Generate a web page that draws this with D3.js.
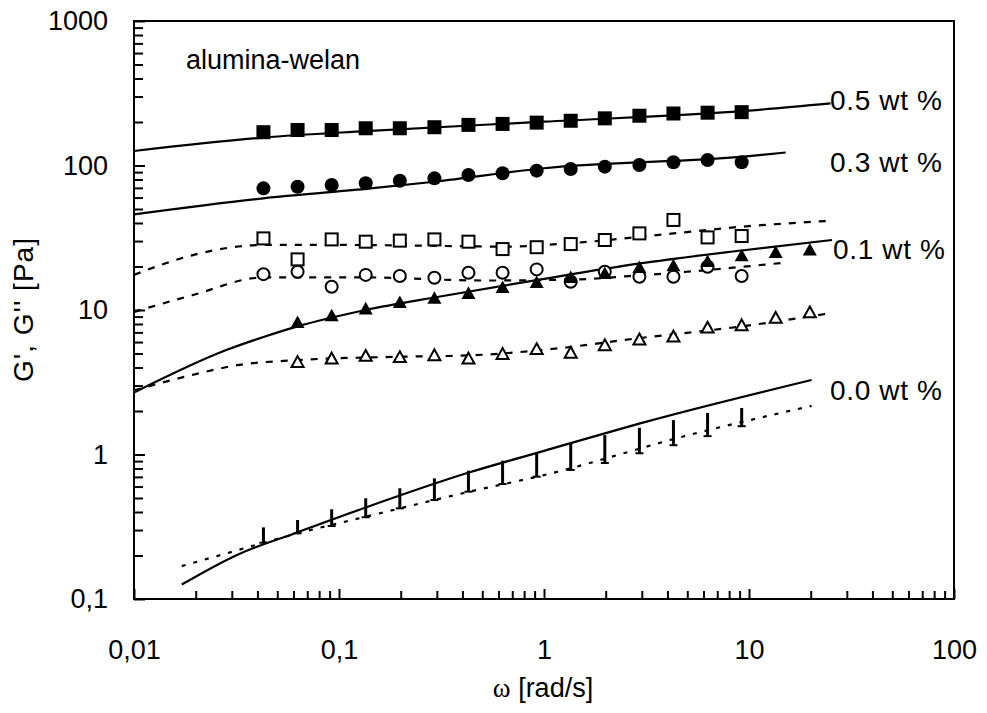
<!DOCTYPE html>
<html>
<head>
<meta charset="utf-8">
<script src="https://cdn.jsdelivr.net/npm/d3@7"></script>
<style>
  html, body { margin: 0; padding: 0; background: #fff; }
  svg text { font-family: "Liberation Sans", Arial, Helvetica, sans-serif; fill: #000; }
</style>
</head>
<body>
<svg id="chart" width="987" height="713"></svg>
<script>
// Angular frequencies of the sweep [rad/s]
const omega = [0.0428, 0.0628, 0.0921, 0.135, 0.198, 0.292, 0.428, 0.628, 0.921,
               1.35, 1.98, 2.92, 4.28, 6.28, 9.21, 13.5, 19.8];

// Storage modulus G' [Pa] (filled symbols)
const gp05 = [170, 176, 176, 181, 181, 184, 191, 194, 198, 204, 212, 221, 229, 232, 234];
const gp03 = [69.5, 71.3, 73.3, 75.3, 78.5, 81.5, 85.9, 88.3, 92.1, 94.6, 98.2, 100.7, 105.2, 109.1, 105.2];
const gp01 = [8.3, 9.23, 10.3, 11.4, 12.2, 13.2, 14.5, 15.7, 17.0, 18.1, 19.9, 20.5, 21.9, 24.0, 25.3, 26.3];

// Loss modulus G'' [Pa] (open symbols)
const gpp05 = [31.3, 22.4, 30.8, 29.7, 30.2, 30.8, 29.7, 26.4, 27.2, 28.6, 30.5, 33.9, 42.0, 31.8, 32.5];
const gpp03 = [17.7, 18.4, 14.5, 17.5, 17.2, 16.7, 18.1, 18.1, 19.1, 15.7, 18.4, 17.0, 17.0, 19.9, 17.2];
const gpp01 = [4.4, 4.65, 4.85, 4.75, 4.9, 4.65, 5.0, 5.4, 5.1, 5.75, 6.3, 6.6, 7.6, 7.9, 8.9, 9.7];

// 0.0 wt % suspension: upper and lower end of each bar marker [Pa]
const g00Top    = [0.313, 0.352, 0.418, 0.498, 0.584, 0.684, 0.773, 0.906, 1.02, 1.20, 1.36, 1.53, 1.73, 1.94, 2.10];
const g00Bottom = [0.245, 0.285, 0.320, 0.368, 0.424, 0.484, 0.553, 0.625, 0.702, 0.781, 0.873, 1.02, 1.16, 1.34, 1.57];

// Model curves as [omega, G] pairs
const fitGp05  = [[0.01, 126], [0.0428, 156], [0.135, 173], [1, 201], [10, 240], [25, 269]];
const fitGp03  = [[0.01, 45.9], [0.0428, 59.3], [0.135, 68.8], [0.292, 77.2], [1, 95.7], [10, 116], [15.1, 123]];
const fitGp01  = [[0.01, 2.68], [0.0284, 5.3], [0.0428, 6.5], [0.0628, 7.7], [0.135, 10.0], [0.311, 12.4],
                  [0.92, 16.1], [2.94, 21.0], [9.2, 25.8], [25.4, 30.5]];
const fitGp00  = [[0.0171, 0.126], [0.0318, 0.202], [0.063, 0.29], [0.135, 0.43], [0.43, 0.75],
                  [1.0, 1.06], [3.17, 1.69], [20.2, 3.28]];
const fitGpp05 = [[0.01, 17.5], [0.0194, 24], [0.0428, 28.2], [0.0921, 28.2], [0.428, 27.6], [0.628, 27.4],
                  [1.35, 29], [4.28, 33.9], [9.21, 37.7], [25.4, 41.5]];
const fitGpp03 = [[0.01, 9.7], [0.0194, 12.7], [0.0428, 16.8], [0.135, 16.8], [0.5, 16.0], [1.5, 16.3],
                  [2.5, 17.1], [5.5, 18.6], [15.1, 21.3]];
const fitGpp01 = [[0.01, 2.78], [0.02, 3.6], [0.0318, 4.15], [0.0628, 4.5], [0.2, 4.75], [0.43, 4.85],
                  [1.0, 5.3], [2.94, 6.4], [9.2, 7.7], [24.8, 9.5]];
const fitGpp00 = [[0.0171, 0.169], [0.03, 0.212], [0.063, 0.285], [0.135, 0.371], [0.45, 0.56],
                  [1.0, 0.72], [5.15, 1.37], [20.2, 2.17]];

// Axis ticks and labels
const xMajor = [0.01, 0.1, 1, 10, 100];
const xTickLabels = ["0,01", "0,1", "1", "10", "100"];
const yMajor = [0.1, 1, 10, 100, 1000];
const yTickLabels = ["0,1", "1", "10", "100", "1000"];

const seriesLabels = ["0.5 wt %", "0.3 wt %", "0.1 wt %", "0.0 wt %"];

const svg = d3.select("#chart");
const plotLeft = 134, plotRight = 954, plotTop = 21, plotBottom = 599;

const x = d3.scaleLog().domain([0.01, 100]).range([plotLeft, plotRight]);
const y = d3.scaleLog().domain([0.1, 1000]).range([plotBottom, plotTop]);

function minorTicks(majors) {
  const out = [];
  for (let i = 0; i < majors.length - 1; i++)
    for (let k = 2; k <= 9; k++) out.push(majors[i] * k);
  return out;
}

// ---- axes ----
const fontSize = 27;
function styleAxis(g) {
  g.select(".domain").remove();
  g.selectAll(".tick line").attr("stroke", "#000").attr("stroke-width", 2);
  g.selectAll("text").style("font-size", fontSize + "px").attr("fill", "#000")
    .style("font-family", "'Liberation Sans', Arial, sans-serif");
}

svg.append("g").attr("transform", `translate(0,${plotBottom})`)
  .call(d3.axisBottom(x).tickValues(minorTicks(xMajor)).tickSize(-8).tickFormat(""))
  .call(styleAxis);
svg.append("g").attr("transform", `translate(0,${plotBottom})`)
  .call(d3.axisBottom(x).tickValues(xMajor).tickSize(-10).tickPadding(41)
        .tickFormat((d, i) => xTickLabels[i]))
  .call(styleAxis);

svg.append("g").attr("transform", `translate(${plotLeft},0)`)
  .call(d3.axisLeft(y).tickValues(minorTicks(yMajor)).tickSize(-9).tickFormat(""))
  .call(styleAxis);
svg.append("g").attr("transform", `translate(${plotLeft},0)`)
  .call(d3.axisLeft(y).tickValues(yMajor).tickSize(-11).tickPadding(26)
        .tickFormat((d, i) => yTickLabels[i]))
  .call(styleAxis);

// frame
svg.append("rect")
  .attr("x", plotLeft).attr("y", plotTop)
  .attr("width", plotRight - plotLeft).attr("height", plotBottom - plotTop)
  .attr("fill", "none").attr("stroke", "#000").attr("stroke-width", 2);

// ---- model curves ----
const line = d3.line().x(d => x(d[0])).y(d => y(d[1])).curve(d3.curveMonotoneX);
const curves = [
  [fitGp05, null], [fitGp03, null], [fitGp01, null], [fitGp00, null],
  [fitGpp05, "7,8"], [fitGpp03, "7,8"], [fitGpp01, "7,8"], [fitGpp00, "4,8"]
];
svg.append("g").selectAll("path").data(curves).join("path")
  .attr("d", d => line(d[0]))
  .attr("fill", "none").attr("stroke", "#000").attr("stroke-width", 2.2)
  .attr("stroke-dasharray", d => d[1]);

// ---- symbols ----
const sq = 14, circR = 7, tri = 14;
function trianglePath(cx, cy, s) {
  const h = s * 0.9;
  return `M${cx},${cy - h / 2}L${cx + s / 2},${cy + h / 2}L${cx - s / 2},${cy + h / 2}Z`;
}

function drawSquares(vals, offset, filled) {
  svg.append("g").selectAll("rect").data(vals).join("rect")
    .attr("x", (d, i) => x(omega[i + offset]) - (filled ? sq / 2 : sq / 2 - 1))
    .attr("y", d => y(d) - (filled ? sq / 2 : sq / 2 - 1))
    .attr("width", filled ? sq : sq - 2).attr("height", filled ? sq : sq - 2)
    .attr("fill", filled ? "#000" : "#fff")
    .attr("stroke", filled ? "none" : "#000").attr("stroke-width", 2);
}
function drawCircles(vals, offset, filled) {
  svg.append("g").selectAll("circle").data(vals).join("circle")
    .attr("cx", (d, i) => x(omega[i + offset]))
    .attr("cy", d => y(d))
    .attr("r", filled ? circR : circR - 1)
    .attr("fill", filled ? "#000" : "#fff")
    .attr("stroke", filled ? "none" : "#000").attr("stroke-width", 2);
}
function drawTriangles(vals, offset, filled) {
  svg.append("g").selectAll("path").data(vals).join("path")
    .attr("d", (d, i) => trianglePath(x(omega[i + offset]), y(d), filled ? tri : tri - 2))
    .attr("fill", filled ? "#000" : "#fff")
    .attr("stroke", filled ? "none" : "#000").attr("stroke-width", 2)
    .attr("stroke-linejoin", "miter");
}

drawSquares(gpp05, 0, false);
drawCircles(gpp03, 0, false);
drawTriangles(gpp01, 1, false);
drawSquares(gp05, 0, true);
drawCircles(gp03, 0, true);
drawTriangles(gp01, 1, true);

// bar markers of the 0.0 wt % suspension
const bars = svg.append("g");
bars.selectAll("line.v").data(g00Top).join("line").attr("class", "v")
  .attr("x1", (d, i) => x(omega[i])).attr("x2", (d, i) => x(omega[i]))
  .attr("y1", d => y(d)).attr("y2", (d, i) => y(g00Bottom[i]))
  .attr("stroke", "#000").attr("stroke-width", 3);
bars.selectAll("line.h").data(g00Bottom).join("line").attr("class", "h")
  .attr("x1", (d, i) => x(omega[i]) - 4).attr("x2", (d, i) => x(omega[i]) + 4)
  .attr("y1", d => y(d)).attr("y2", d => y(d))
  .attr("stroke", "#000").attr("stroke-width", 2);

// ---- labels ----
svg.append("g").selectAll("text").data(seriesLabels).join("text")
  .attr("x", (d, i) => i === 2 ? 833 : 830)
  .attr("y", (d, i) => [110, 171.5, 259, 400][i])
  .attr("textLength", 112).attr("lengthAdjust", "spacing")
  .style("font-size", "28px")
  .text(d => d);

svg.append("text").attr("x", 186).attr("y", 69)
  .style("font-size", "27px").text("alumina-welan");

const xTitle = svg.append("text").attr("x", 543).attr("y", 697)
  .attr("text-anchor", "middle").style("font-size", "27px");
xTitle.append("tspan").style("font-family", "'Liberation Serif', 'Times New Roman', serif").text("ω");
xTitle.append("tspan").text(" [rad/s]");

svg.append("text")
  .attr("transform", "translate(33,310) rotate(-90)")
  .attr("text-anchor", "middle").style("font-size", "28px")
  .attr("textLength", 144).attr("lengthAdjust", "spacing")
  .text("G', G'' [Pa]");
</script>
</body>
</html>
